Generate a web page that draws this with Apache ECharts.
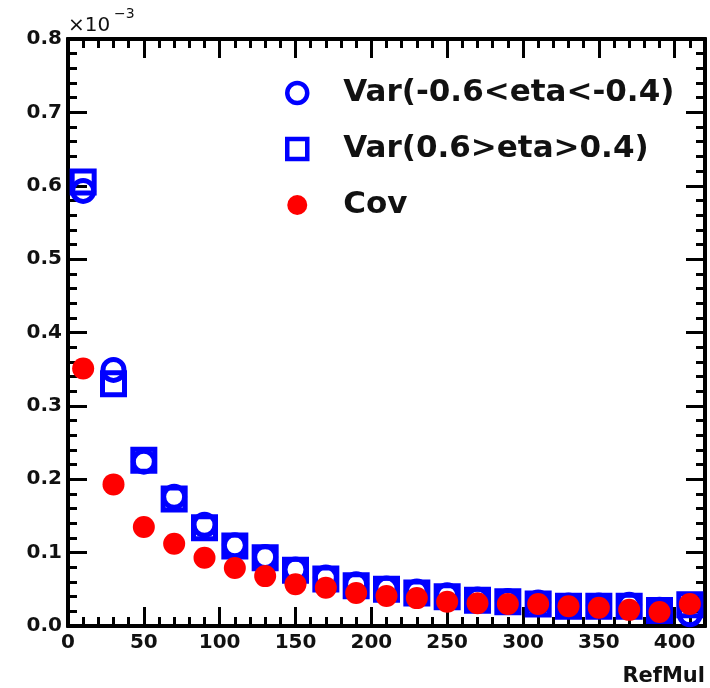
<!DOCTYPE html>
<html>
<head>
<meta charset="utf-8">
<script src="https://cdn.jsdelivr.net/npm/echarts@6/dist/echarts.min.js"></script>
<style>
  html, body { margin: 0; padding: 0; background: #fff; }
  #chart { width: 710px; height: 688px; }
</style>
</head>
<body>
<div id="chart"></div>
<script>
// RefMul bin centres
var refMul = [10, 30, 50, 70, 90, 110, 130, 150, 170, 190, 210, 230, 250, 270, 290, 310, 330, 350, 370, 390, 410];

// Values in units of 1e-3
var varNeg = [0.593, 0.349, 0.224, 0.176, 0.138, 0.110, 0.094, 0.077, 0.066, 0.057, 0.051, 0.047, 0.042, 0.036, 0.034, 0.032, 0.028, 0.028, 0.029, 0.022, 0.016];
var varPos = [0.605, 0.330, 0.226, 0.173, 0.134, 0.109, 0.093, 0.076, 0.064, 0.055, 0.050, 0.045, 0.040, 0.035, 0.033, 0.030, 0.027, 0.027, 0.027, 0.021, 0.029];
var cov    = [0.351, 0.193, 0.135, 0.112, 0.093, 0.079, 0.068, 0.057, 0.052, 0.045, 0.041, 0.038, 0.033, 0.031, 0.030, 0.030, 0.027, 0.025, 0.022, 0.019, 0.030];

var seriesNames = ['Var(-0.6<eta<-0.4)', 'Var(0.6>eta>0.4)', 'Cov'];

var FONT = 'DejaVu Sans';
var X_MIN = 0, X_MAX = 420, Y_MIN = 0, Y_MAX = 0.8;

function pairs(xs, ys) {
  return xs.map(function (x, i) { return [x, ys[i]]; });
}

// One frame side: a major-tick axis and a minor-tick axis drawn on top of each other
function xAxisDef(position, interval, tickLen, withLabels) {
  return {
    type: 'value', position: position, min: X_MIN, max: X_MAX, interval: interval,
    axisLine: { show: true, onZero: false, lineStyle: { color: '#000', width: 4 } },
    axisTick: { show: true, inside: true, length: tickLen, lineStyle: { color: '#000', width: 3 } },
    axisLabel: withLabels ? {
      show: true, showMaxLabel: false, margin: 7,
      color: '#111', fontFamily: FONT, fontWeight: 'bold', fontSize: 20
    } : { show: false },
    splitLine: { show: false }
  };
}
function yAxisDef(position, interval, tickLen, withLabels) {
  return {
    type: 'value', position: position, min: Y_MIN, max: Y_MAX, interval: interval,
    axisLine: { show: true, onZero: false, lineStyle: { color: '#000', width: 4 } },
    axisTick: { show: true, inside: true, length: tickLen, lineStyle: { color: '#000', width: 3 } },
    axisLabel: withLabels ? {
      show: true, margin: 6,
      color: '#111', fontFamily: FONT, fontWeight: 'bold', fontSize: 20,
      formatter: function (v) { return v.toFixed(1); }
    } : { show: false },
    splitLine: { show: false }
  };
}

var xMain = xAxisDef('bottom', 50, 19, true);
xMain.name = 'RefMul';
xMain.nameLocation = 'end';
xMain.nameGap = 0;
xMain.nameTextStyle = {
  color: '#111', fontFamily: FONT, fontWeight: 'bold', fontSize: 21,
  align: 'right', verticalAlign: 'top', padding: [40, 0, 0, 0]
};

var chart = echarts.init(document.getElementById('chart'), null, { renderer: 'canvas' });

chart.setOption({
  animation: false,
  backgroundColor: '#fff',
  grid: { left: 68, right: 5, top: 39, bottom: 62, containLabel: false },
  xAxis: [
    xMain,
    xAxisDef('bottom', 10, 9, false),
    xAxisDef('top', 50, 19, false),
    xAxisDef('top', 10, 9, false)
  ],
  yAxis: [
    yAxisDef('left', 0.1, 19, true),
    yAxisDef('left', 0.02, 9, false),
    yAxisDef('right', 0.1, 19, false),
    yAxisDef('right', 0.02, 9, false)
  ],
  legend: {
    orient: 'vertical',
    left: 280, top: 70,
    itemWidth: 20, itemHeight: 20, itemGap: 20,
    itemStyle: { borderWidth: 4.5 },
    selectedMode: false,
    textStyle: {
      color: '#111', fontFamily: FONT, fontWeight: 'bold', fontSize: 31,
      lineHeight: 36, padding: [0, 0, 0, 31]
    },
    data: seriesNames
  },
  graphic: [
    { type: 'text', left: 68, top: 16, style: { text: '×10', fill: '#111', font: '20px "DejaVu Sans"' } },
    { type: 'text', left: 114, top: 7, style: { text: '−3', fill: '#111', font: '14px "DejaVu Sans"' } }
  ],
  series: [
    {
      name: seriesNames[0], type: 'scatter', symbol: 'circle', symbolSize: 21,
      data: pairs(refMul, varNeg),
      itemStyle: { color: 'rgba(0,0,0,0)', borderColor: '#0000ff', borderWidth: 5, opacity: 1 },
      z: 3
    },
    {
      name: seriesNames[1], type: 'scatter', symbol: 'rect', symbolSize: 22,
      data: pairs(refMul, varPos),
      itemStyle: { color: 'rgba(0,0,0,0)', borderColor: '#0000ff', borderWidth: 5, opacity: 1 },
      z: 3
    },
    {
      name: seriesNames[2], type: 'scatter', symbol: 'circle', symbolSize: 22,
      data: pairs(refMul, cov),
      itemStyle: { color: '#ff0000', borderWidth: 0, opacity: 1 },
      z: 4
    }
  ]
});
</script>
</body>
</html>
